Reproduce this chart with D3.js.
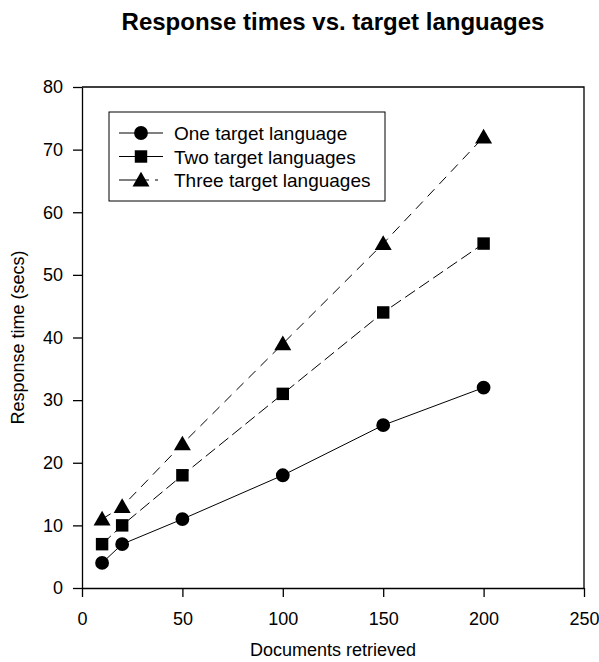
<!DOCTYPE html>
<html><head><meta charset="utf-8">
<script src="https://cdn.jsdelivr.net/npm/d3@7"></script>
<style>body{margin:0;background:#fff}svg{display:block;font-family:"Liberation Sans",Arial,sans-serif}</style>
</head><body>
<script>
const docs = [10, 20, 50, 100, 150, 200];
const oneLang = [4, 7, 11, 18, 26, 32];
const twoLang = [7, 10, 18, 31, 44, 55];
const threeLang = [11, 13, 23, 39, 55, 72];
const seriesNames = ["One target language", "Two target languages", "Three target languages"];
const xTicks = [0, 50, 100, 150, 200, 250];
const yTicks = [0, 10, 20, 30, 40, 50, 60, 70, 80];

const W = 599, H = 662;
const m = {l: 82, r: 584, t: 87, b: 588};
const svg = d3.select("body").append("svg").attr("width", W).attr("height", H);
const x = d3.scaleLinear().domain([0, 250]).range([m.l, m.r]);
const y = d3.scaleLinear().domain([0, 80]).range([m.b, m.t]);

svg.append("text").attr("x", 333).attr("y", 30).attr("text-anchor", "middle")
  .attr("font-size", 24).attr("font-weight", "bold").text("Response times vs. target languages");

svg.append("path").attr("d", `M${m.l},${m.t}H${m.r}V${m.b}`).attr("fill", "none").attr("stroke", "#000").attr("stroke-width", 1.3);

const xAxis = svg.append("g").attr("transform", `translate(0,${m.b})`)
  .call(d3.axisBottom(x).tickValues(xTicks).tickSize(9).tickPadding(15).tickSizeOuter(0));
const yAxis = svg.append("g").attr("transform", `translate(${m.l},0)`)
  .call(d3.axisLeft(y).tickValues(yTicks).tickSize(9).tickPadding(10).tickSizeOuter(0));
[xAxis, yAxis].forEach(g => {
  g.selectAll("text").attr("font-size", 18).attr("fill", "#000").attr("font-family", "Liberation Sans, Arial, sans-serif");
  g.selectAll("line,path").attr("stroke", "#000").attr("stroke-width", 1.3);
});

svg.append("text").attr("x", 333).attr("y", 656).attr("text-anchor", "middle").attr("font-size", 18).text("Documents retrieved");
svg.append("text").attr("transform", `translate(24,${(m.t + m.b) / 2}) rotate(-90)`).attr("text-anchor", "middle")
  .attr("font-size", 18).text("Response time (secs)");

const dashes = [null, "12,5", "10,7"];
const shapes = [d3.symbolCircle, d3.symbolSquare, d3.symbolTriangle];
const sizes = [150, 155, 125];
const allSeries = [oneLang, twoLang, threeLang];
const line = d3.line().x(d => x(d[0])).y(d => y(d[1]));

allSeries.forEach((vals, i) => {
  const pts = docs.map((d, j) => [d, vals[j]]);
  svg.append("path").attr("d", line(pts)).attr("fill", "none").attr("stroke", "#000").attr("stroke-width", 1)
    .attr("stroke-dasharray", dashes[i]);
  svg.selectAll(null).data(pts).enter().append("path")
    .attr("transform", d => `translate(${x(d[0])},${y(d[1]) + (i === 2 ? 1.5 : 0)})`)
    .attr("d", d3.symbol().type(shapes[i]).size(sizes[i])).attr("fill", "#000");
});

const lg = svg.append("g");
lg.append("rect").attr("x", 109).attr("y", 112).attr("width", 276).attr("height", 89)
  .attr("fill", "#fff").attr("stroke", "#000").attr("stroke-width", 1);
seriesNames.forEach((name, i) => {
  const yy = 133 + i * 23.5;
  lg.append("line").attr("x1", 119).attr("x2", 163).attr("y1", yy).attr("y2", yy)
    .attr("stroke", "#000").attr("stroke-width", 1).attr("stroke-dasharray", i === 2 ? "30,6,3" : null);
  lg.append("path").attr("transform", `translate(141,${yy + (i === 2 ? 1.5 : 0)})`)
    .attr("d", d3.symbol().type(shapes[i]).size(sizes[i])).attr("fill", "#000");
  lg.append("text").attr("x", 174).attr("y", yy + 7).attr("font-size", 19).text(name);
});
</script>
</body></html>
